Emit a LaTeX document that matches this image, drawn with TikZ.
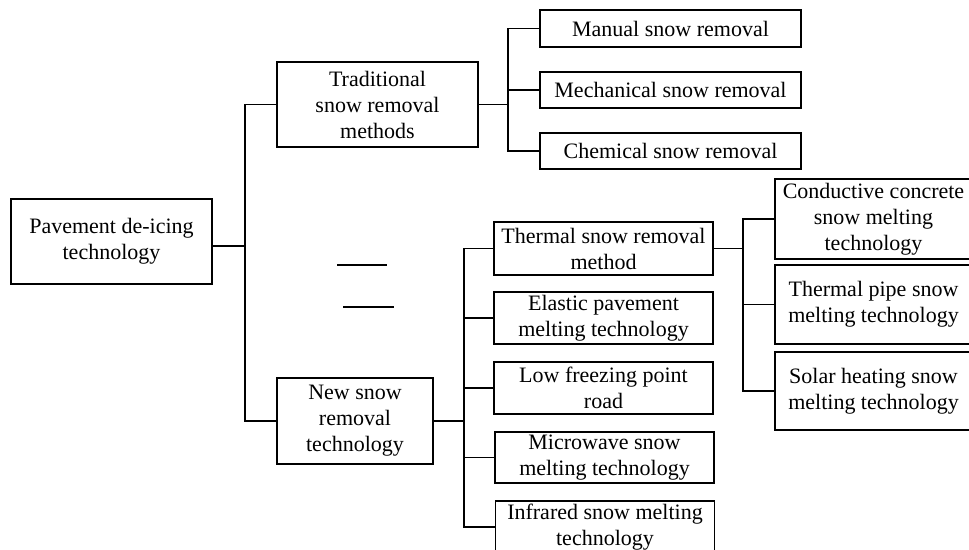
\documentclass[tikz,border=0pt]{standalone}
\usepackage{fontspec}
\setmainfont{Liberation Serif}
\begin{document}
\begin{tikzpicture}[x=1pt, y=-1pt, line width=1.6pt,
    box/.style={draw, align=center, inner sep=0pt, font=\fontsize{22}{26}\selectfont},
    link/.style={line width=1.6pt}]
                \useasboundingbox (0,0) rectangle (969,549);
                \node[box, minimum width=201, minimum height=85] (root) at (111.5,241.5) {Pavement de-icing\\technology};
                \node[box, minimum width=201, minimum height=85] (trad) at (377.5,104.5) {Traditional\\snow removal\\methods};
                \node[box, minimum width=156, minimum height=86] (new) at (355,421) {New snow\\removal\\technology};
                \node[box, minimum width=261, minimum height=37] (manual) at (670.5,28.5) {Manual snow removal};
                \node[box, minimum width=261, minimum height=36] (mech) at (670.5,90) {Mechanical snow removal};
                \node[box, minimum width=261, minimum height=36] (chem) at (670.5,151) {Chemical snow removal};
                \node[box, minimum width=219, minimum height=53] (thermal) at (603.5,248.5) {Thermal snow removal\\method};
                \node[box, minimum width=219, minimum height=52] (elastic) at (603.5,318) {Elastic pavement\\melting technology};
                \node[box, minimum width=219, minimum height=52] (low) at (603.5,388) {Low freezing point\\road};
                \node[box, minimum width=219, minimum height=51] (micro) at (604.5,457.5) {Microwave snow\\melting technology};
                \node[box, minimum width=219, minimum height=52] (infrared) at (605,527) {Infrared snow melting\\technology};
                \node[box, minimum width=197, minimum height=80] (conductive) at (873.5,219) {Conductive concrete\\snow melting\\technology};
                \node[box, minimum width=197, minimum height=79] (pipe) at (873.5,304.5) {Thermal pipe snow\\melting technology};
                \node[box, minimum width=197, minimum height=78] (solar) at (873.5,391) {Solar heating snow\\melting technology};
                \coordinate (jr) at (245,246);
                \coordinate (jt) at (508,104.5);
                \coordinate (jn) at (464,421);
                \coordinate (jh) at (743,248.5);
                \draw[link] (root.east |- jr) -- (jr);
                \draw[link] (trad.west) -| (jr) |- (new.west);
                \draw[link] (trad.east) -- (jt);
                \draw[link] (manual.west) -| (jt) |- (chem.west);
                \draw[link] (jt) |- (mech.west);
                \draw[link] (new.east) -- (jn);
                \draw[link] (thermal.west) -| (jn) |- (infrared.west);
                \foreach \n in {elastic, low, micro}
                    \draw[link] (jn) |- (\n.west);
                \draw[link] (thermal.east) -- (jh);
                \draw[link] (conductive.west) -| (jh) |- (solar.west);
                \draw[link] (jh) |- (pipe.west);
                \draw[link] (337,265) -- (387,265);
                \draw[link] (343,307) -- (394,307);
            \end{tikzpicture}
\end{document}
